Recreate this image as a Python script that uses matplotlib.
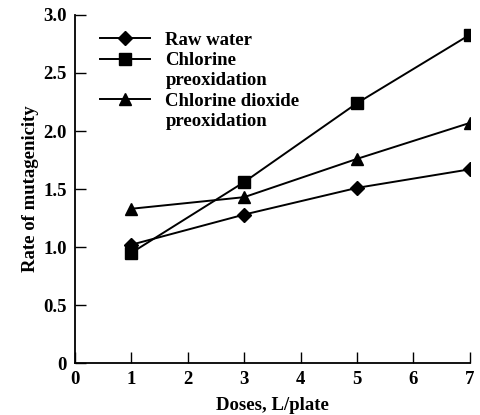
import matplotlib
matplotlib.use('Agg')
import matplotlib.pyplot as plt
from matplotlib.lines import Line2D

plt.rcParams['font.family'] = ['Liberation Serif', 'DejaVu Serif']

doses = [1, 3, 5, 7]
raw_water = [1.02, 1.28, 1.51, 1.67]
chlorine = [0.95, 1.56, 2.24, 2.83]
chlorine_dioxide = [1.33, 1.43, 1.76, 2.07]
legend_rows = ['Raw water', 'Chlorine', 'preoxidation', 'Chlorine dioxide', 'preoxidation']

fig = plt.figure(figsize=(4.8, 4.15), dpi=100)
ax = fig.add_axes([0.156, 0.125, 0.823, 0.839])

h1, = ax.plot(doses, raw_water, color='black', lw=1.4, marker='D', ms=7.5)
h2, = ax.plot(doses, chlorine, color='black', lw=1.4, marker='s', ms=9)
h3, = ax.plot(doses, chlorine_dioxide, color='black', lw=1.4, marker='^', ms=9)

ax.set_xlim(0, 7)
ax.set_ylim(0, 3.0)
ax.set_xticks(range(0, 8))
ax.set_yticks([0, 0.5, 1.0, 1.5, 2.0, 2.5, 3.0])
ax.set_yticklabels(['0', '0.5', '1.0', '1.5', '2.0', '2.5', '3.0'])
ax.tick_params(direction='in', length=8, width=1, labelsize=13.5, pad=6)
for lab in ax.get_xticklabels() + ax.get_yticklabels():
    lab.set_fontweight('bold')
ax.spines['top'].set_visible(False)
ax.spines['right'].set_visible(False)
ax.spines['left'].set_linewidth(1.3)
ax.spines['bottom'].set_linewidth(1.3)

ax.set_xlabel('Doses, L/plate', fontsize=13.5, fontweight='bold', labelpad=6)
ax.set_ylabel('Rate of mutagenicity', fontsize=13.5, fontweight='bold', labelpad=3)

blank = Line2D([], [], linestyle='none', marker='none')
leg = ax.legend([h1, h2, blank, h3, blank], legend_rows,
                loc='upper left', bbox_to_anchor=(0.063, 0.952), frameon=False,
                prop={'size': 13.5, 'weight': 'bold'}, handlelength=2.7,
                labelspacing=0.17, handletextpad=0.8, borderaxespad=0,
                borderpad=0)

fig.savefig('out.png', dpi=100)
